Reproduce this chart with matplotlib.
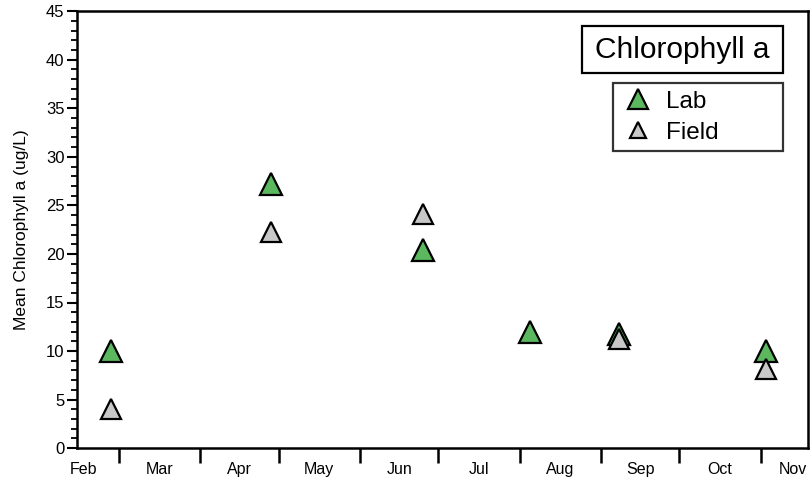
import datetime as dt
import numpy as np
import matplotlib
matplotlib.use("Agg")
import matplotlib.pyplot as plt
from matplotlib.lines import Line2D
from matplotlib.patches import Rectangle

plt.rcParams['font.family'] = ['Liberation Sans', 'DejaVu Sans']

# Sampling dates and mean chlorophyll a (ug/L)
sample_dates = ["2013-02-26", "2013-04-28", "2013-06-25",
                "2013-08-05", "2013-09-08", "2013-11-03"]
lab_values = [10.0, 27.2, 20.4, 12.0, 11.8, 10.0]
field_values = [4.0, 22.3, 24.1, np.nan, 11.2, 8.2]
month_labels = ["Feb", "Mar", "Apr", "May", "Jun", "Jul", "Aug", "Sep", "Oct", "Nov"]

dates = [dt.datetime.strptime(d, "%Y-%m-%d") for d in sample_dates]

fig = plt.figure(figsize=(8.11, 4.84), dpi=100)
ax = fig.add_axes([0.095, 0.074, 0.901, 0.903])

lab_green = "#5cb85f"
field_gray = "#c8c8c8"
ax.plot(dates, lab_values, linestyle="none", marker="^", markersize=16,
        markerfacecolor=lab_green, markeredgecolor="black", markeredgewidth=1.6,
        zorder=3)
ax.plot(dates, field_values, linestyle="none", marker="^", markersize=14,
        markerfacecolor=field_gray, markeredgecolor="black", markeredgewidth=1.6,
        zorder=4)

x_start = dt.datetime(2013, 2, 13)
x_end = dt.datetime(2013, 11, 19)
ax.set_xlim(x_start, x_end)
ax.set_ylim(0, 45)

# Month boundaries as major ticks, month names centred between them
bounds = [dt.datetime(2013, m, 1) for m in range(3, 12)]
ax.set_xticks(bounds)
ax.set_xticklabels([])
edges = [x_start] + bounds + [x_end]
label_pos = []
for a, b in zip(edges[:-1], edges[1:]):
    label_pos.append(a + (b - a) / 2)
label_pos[0] = x_start + dt.timedelta(days=2.5)
label_pos[-1] = x_end - dt.timedelta(days=5.5)
ax.set_xticks(label_pos, minor=True)
ax.set_xticklabels(month_labels, minor=True)
ax.tick_params(axis="x", which="major", direction="out", length=11, width=1.8)
ax.tick_params(axis="x", which="minor", length=0, pad=10, labelsize=11.5)

ax.set_yticks(np.arange(0, 46, 5))
ax.set_yticks(np.arange(0, 46, 1), minor=True)
ax.tick_params(axis="y", which="major", direction="out", length=7, width=1.5,
               labelsize=12, pad=2)
ax.tick_params(axis="y", which="minor", direction="out", length=4, width=1.3)

for side in ["left", "bottom", "right", "top"]:
    ax.spines[side].set_linewidth(1.8)

ax.set_ylabel("Mean Chlorophyll a (ug/L)", fontsize=12.5, labelpad=12)

# Title box
ax.add_patch(Rectangle((0.691, 0.858), 0.275, 0.108, transform=ax.transAxes,
                       facecolor="white", edgecolor="black", linewidth=1.6,
                       zorder=5))
ax.text(0.8285, 0.910, "Chlorophyll a", transform=ax.transAxes,
        ha="center", va="center", fontsize=21.5, zorder=6)

handles = [
    Line2D([], [], linestyle="none", marker="^", markersize=15,
           markerfacecolor=lab_green, markeredgecolor="black", markeredgewidth=1.6),
    Line2D([], [], linestyle="none", marker="^", markersize=12,
           markerfacecolor=field_gray, markeredgecolor="black", markeredgewidth=1.6),
]
leg = ax.legend(handles, ["Lab", "Field"], loc="upper left", mode="expand",
                bbox_to_anchor=(0.733, 0.0, 0.233, 0.835), borderaxespad=0,
                fontsize=17.5, frameon=True, fancybox=False, handlelength=1.5,
                handletextpad=0.4, labelspacing=0.38, borderpad=0.3)
leg.get_frame().set_edgecolor("black")
leg.get_frame().set_linewidth(1.6)

fig.savefig("out.png", dpi=100)
